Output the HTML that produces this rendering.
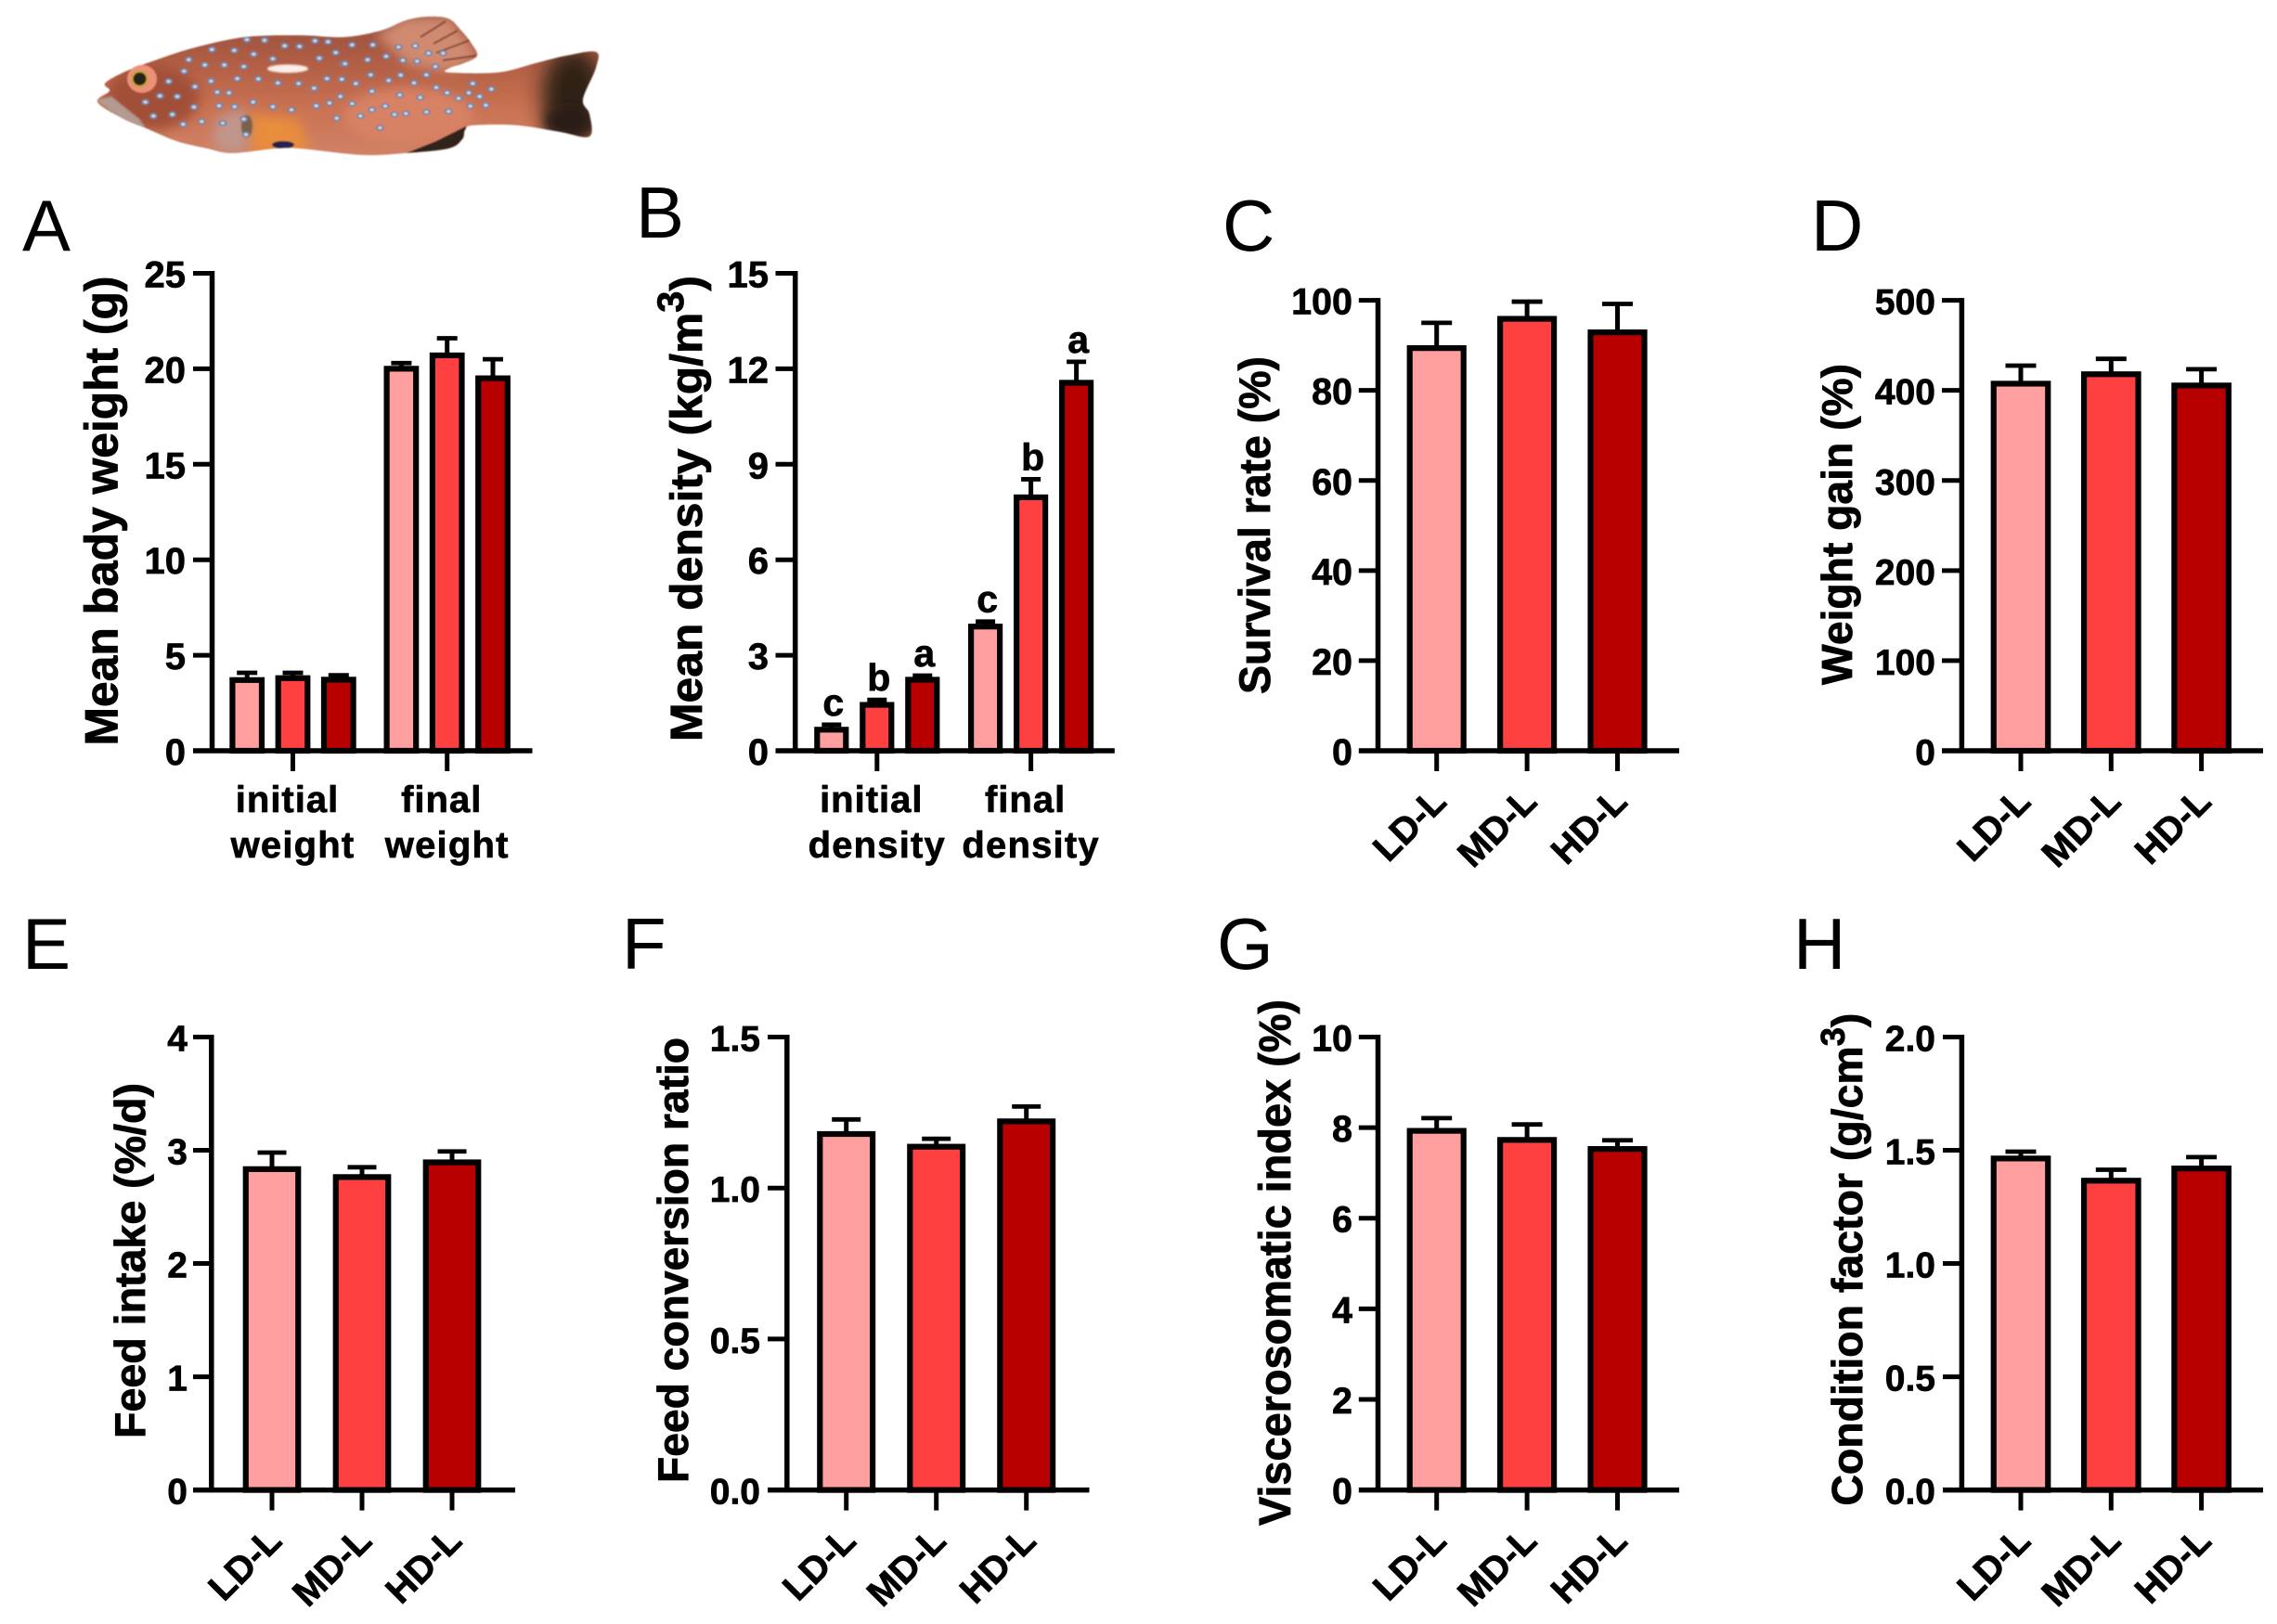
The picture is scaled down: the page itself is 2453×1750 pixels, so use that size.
<!DOCTYPE html>
<html lang="en">
<head>
<meta charset="utf-8">
<title>Growth performance bar charts</title>
<style>
  html, body { margin: 0; padding: 0; background: #fff; }
  svg { display: block; font-family: "Liberation Sans", Arial, sans-serif; }
  .panel-letter { font-size: 78px; font-weight: 400; fill: #000; }
  .axis-title { font-weight: 700; fill: #000; stroke: #000; stroke-width: 0.8px; }
</style>
</head>
<body>
<svg id="figure" xmlns="http://www.w3.org/2000/svg" width="2453" height="1750" viewBox="0 0 2453 1750">
  <rect width="2453" height="1750" fill="#fff"/>
  <defs>
    <filter id="soft" x="-5%" y="-5%" width="110%" height="110%"><feGaussianBlur stdDeviation="0.8"/></filter>
    <filter id="blurMid" x="-40%" y="-40%" width="180%" height="180%"><feGaussianBlur stdDeviation="6"/></filter>
    <filter id="blurWide" x="-50%" y="-50%" width="200%" height="200%"><feGaussianBlur stdDeviation="11"/></filter>
    <linearGradient id="bodyGrad" x1="0" y1="0" x2="0" y2="1">
      <stop offset="0" stop-color="#96503f"/>
      <stop offset="0.3" stop-color="#ae5c43"/>
      <stop offset="0.65" stop-color="#c97152"/>
      <stop offset="1" stop-color="#d08266"/>
    </linearGradient>
    <clipPath id="fishClip"><path id="fishClipPath" d=""/></clipPath>
  </defs>

  <g id="fish" filter="url(#soft)"></g>

  <text class="panel-letter" x="24" y="270">A</text>
  <text class="panel-letter" x="685" y="256">B</text>
  <text class="panel-letter" x="1317" y="270">C</text>
  <text class="panel-letter" x="1951" y="270">D</text>
  <text class="panel-letter" x="24" y="1044">E</text>
  <text class="panel-letter" x="670" y="1044">F</text>
  <text class="panel-letter" x="1311" y="1044">G</text>
  <text class="panel-letter" x="1932" y="1044">H</text>

  <text class="axis-title" font-size="50" transform="translate(126.5,803.5) rotate(-90)" textLength="506" lengthAdjust="spacingAndGlyphs">Mean bady weight (g)</text>
  <text class="axis-title" font-size="48" transform="translate(756,799) rotate(-90)" textLength="502" lengthAdjust="spacingAndGlyphs">Mean density (kg/m<tspan dy="-20" font-size="40">3</tspan><tspan dy="20">)</tspan></text>
  <text class="axis-title" font-size="47" transform="translate(1368,748) rotate(-90)" textLength="364" lengthAdjust="spacingAndGlyphs">Survival rate (%)</text>
  <text class="axis-title" font-size="46" transform="translate(1995,738) rotate(-90)" textLength="346" lengthAdjust="spacingAndGlyphs">Weight gain (%)</text>
  <text class="axis-title" font-size="46" transform="translate(156,1550) rotate(-90)" textLength="383" lengthAdjust="spacingAndGlyphs">Feed intake (%/d)</text>
  <text class="axis-title" font-size="46" transform="translate(740.8,1598) rotate(-90)" textLength="480" lengthAdjust="spacingAndGlyphs">Feed conversion ratio</text>
  <text class="axis-title" font-size="48" transform="translate(1390,1644) rotate(-90)" textLength="567" lengthAdjust="spacingAndGlyphs">Viscerosomatic index (%)</text>
  <text class="axis-title" font-size="46" transform="translate(2005.8,1622.6) rotate(-90)" textLength="531" lengthAdjust="spacingAndGlyphs">Condition factor (g/cm<tspan dy="-19" font-size="36">3</tspan><tspan dy="19">)</tspan></text>
</svg>

<script>
// ---------- chart data ----------
const treatments = ['LD-L', 'MD-L', 'HD-L'];
const weightGroupLines = [['initial', 'weight'], ['final', 'weight']];
const densityGroupLines = [['initial', 'density'], ['final', 'density']];
const densityLetters = ['c', 'b', 'a', 'c', 'b', 'a'];

const ticksA = ['0', '5', '10', '15', '20', '25'];
const meansA = [3.8, 3.9, 3.82, 20.1, 20.8, 19.6];
const errorsA = [0.28, 0.18, 0.13, 0.2, 0.8, 0.9];

const ticksB = ['0', '3', '6', '9', '12', '15'];
const meansB = [0.72, 1.5, 2.29, 3.96, 8.02, 11.62];
const errorsB = [0.1, 0.1, 0.07, 0.1, 0.51, 0.6];

const ticksC = ['0', '20', '40', '60', '80', '100'];
const meansC = [89.8, 96.3, 93.3];
const errorsC = [5.2, 3.4, 5.9];

const ticksD = ['0', '100', '200', '300', '400', '500'];
const meansD = [409.5, 420, 407.5];
const errorsD = [18, 15, 16];

const ticksE = ['0', '1', '2', '3', '4'];
const meansE = [2.85, 2.78, 2.91];
const errorsE = [0.13, 0.07, 0.08];

const ticksF = ['0.0', '0.5', '1.0', '1.5'];
const meansF = [1.185, 1.143, 1.227];
const errorsF = [0.042, 0.02, 0.043];

const ticksG = ['0', '2', '4', '6', '8', '10'];
const meansG = [7.97, 7.77, 7.57];
const errorsG = [0.24, 0.3, 0.15];

const ticksH = ['0.0', '0.5', '1.0', '1.5', '2.0'];
const meansH = [1.472, 1.374, 1.428];
const errorsH = [0.022, 0.04, 0.042];

// ---------- drawing ----------
const SVG_NS = 'http://www.w3.org/2000/svg';
const figure = document.getElementById('figure');
const seriesFills = ['#ff9f9f', '#ff4040', '#b90000'];
const labelStroke = { stroke: '#000', 'stroke-width': 0.7 };

function shape(parent, tag, attrs, content) {
  const node = document.createElementNS(SVG_NS, tag);
  for (const key in attrs) node.setAttribute(key, attrs[key]);
  if (content !== undefined) node.textContent = content;
  parent.appendChild(node);
  return node;
}

function boldText(parent, attrs, content) {
  const merged = Object.assign({ 'font-weight': 700, fill: '#000' }, labelStroke, attrs);
  return shape(parent, 'text', merged, content);
}

function drawPanel(id, frame, tickLabels, means, errors, opts) {
  const group = shape(figure, 'g', {});
  
  

  const yMax = parseFloat(tickLabels[tickLabels.length - 1]);
  const yScale = function (v) { return frame.zeroY - (v / yMax) * (frame.zeroY - frame.topY); };
  const groupSize = opts.groupSize;
  const slotCenter = function (g) { return frame.first + g * frame.groupStep; };
  const barCenter = function (i) {
    const g = Math.floor(i / groupSize);
    const j = i % groupSize;
    return slotCenter(g) + (groupSize > 1 ? (j - 1) * frame.barStep : 0);
  };

  // bars and error bars
  means.forEach(function (mean, i) {
    const cx = barCenter(i);
    const top = yScale(mean + errors[i]);
    const barTop = yScale(mean);
    const stem = shape(group, 'line', { x1: cx, x2: cx, y1: top, y2: barTop + 3, stroke: '#000', 'stroke-width': 5 });
    
    
    const cap = shape(group, 'line', { x1: cx - frame.capWidth / 2, x2: cx + frame.capWidth / 2, y1: top, y2: top, stroke: '#000', 'stroke-width': 4.8 });
    
    
    const bar = shape(group, 'rect', {
      x: cx - frame.barWidth / 2 + 3,
      y: barTop + 2,
      width: frame.barWidth - 6,
      height: Math.max(0, frame.zeroY - barTop - 2),
      fill: seriesFills[i % 3],
      stroke: '#000',
      'stroke-width': 6.2
    });
    
    
    if (opts.letters) {
      const letter = boldText(group, { x: cx + 2, y: top - 10, 'text-anchor': 'middle', 'font-size': 41 }, opts.letters[i]);
      
      
    }
  });

  // y axis
  const yAxis = shape(group, 'line', { x1: frame.axisX, x2: frame.axisX, y1: frame.topY - 2.5, y2: frame.zeroY + 2.5, stroke: '#000', 'stroke-width': 5.5 });
  
  

  tickLabels.forEach(function (label, k) {
    const v = parseFloat(label);
    const y = yScale(v);
    if (k > 0) {
      const tick = shape(group, 'line', { x1: frame.tickLeft, x2: frame.axisX, y1: y, y2: y, stroke: '#000', 'stroke-width': 5 });
      
      
    }
    const text = boldText(group, { x: frame.labelRight, y: y + 15, 'text-anchor': 'end', 'font-size': frame.tickFont }, label);
    
    
  });

  // x axis
  const xAxis = shape(group, 'line', { x1: frame.tickLeft, x2: frame.xRight, y1: frame.zeroY, y2: frame.zeroY, stroke: '#000', 'stroke-width': 5.5 });
  
  

  const slots = opts.groupLines ? opts.groupLines : opts.categories;
  slots.forEach(function (entry, g) {
    const cx = slotCenter(g);
    const xTick = shape(group, 'line', { x1: cx, x2: cx, y1: frame.zeroY, y2: frame.zeroY + 22, stroke: '#000', 'stroke-width': 5 });
    
    
    if (opts.groupLines) {
      const first = boldText(group, { x: cx - 6, y: frame.zeroY + 66, 'text-anchor': 'middle', 'font-size': 40, 'letter-spacing': 1 }, entry[0]);
      
      
      const second = boldText(group, { x: cx, y: frame.zeroY + 115, 'text-anchor': 'middle', 'font-size': 40, 'letter-spacing': 1.2 }, entry[1]);
      
      
    } else {
      const ax = cx + 12.5;
      const ay = frame.zeroY + 57;
      const cat = boldText(group, { x: 0, y: 0, transform: 'translate(' + ax + ',' + ay + ') rotate(-45)', 'text-anchor': 'end', 'font-size': 40 }, entry);
      
      
    }
  });
}

const topRowZero = 809;
const bottomRowZero = 1605.6;

drawPanel('a', { axisX: 228.5, tickLeft: 208, xRight: 573.5, labelRight: 200, topY: 294.5, zeroY: topRowZero, first: 315.5, groupStep: 166.2, barStep: 49.3, barWidth: 37.6, capWidth: 22, tickFont: 40 },
  ticksA, meansA, errorsA, { groupSize: 3, groupLines: weightGroupLines });

drawPanel('b', { axisX: 856.7, tickLeft: 835.5, xRight: 1200.8, labelRight: 828, topY: 294.5, zeroY: topRowZero, first: 944.8, groupStep: 165.8, barStep: 49, barWidth: 37, capWidth: 21, tickFont: 40 },
  ticksB, meansB, errorsB, { groupSize: 3, groupLines: densityGroupLines, letters: densityLetters });

drawPanel('c', { axisX: 1484.5, tickLeft: 1463.8, xRight: 1809, labelRight: 1457, topY: 323.6, zeroY: topRowZero, first: 1547.7, groupStep: 97.4, barStep: 0, barWidth: 64, capWidth: 33, tickFont: 39.5 },
  ticksC, meansC, errorsC, { groupSize: 1, categories: treatments });

drawPanel('d', { axisX: 2113.4, tickLeft: 2092, xRight: 2438, labelRight: 2085, topY: 323.6, zeroY: topRowZero, first: 2177, groupStep: 97.3, barStep: 0, barWidth: 64.5, capWidth: 33, tickFont: 39 },
  ticksD, meansD, errorsD, { groupSize: 1, categories: treatments });

drawPanel('e', { axisX: 227.8, tickLeft: 208, xRight: 555, labelRight: 202, topY: 1117.5, zeroY: bottomRowZero, first: 293, groupStep: 97, barStep: 0, barWidth: 62.5, capWidth: 31, tickFont: 39 },
  ticksE, meansE, errorsE, { groupSize: 1, categories: treatments });

drawPanel('f', { axisX: 847.8, tickLeft: 827, xRight: 1173.5, labelRight: 819, topY: 1117.5, zeroY: bottomRowZero, first: 911.7, groupStep: 97, barStep: 0, barWidth: 62.8, capWidth: 31, tickFont: 39 },
  ticksF, meansF, errorsF, { groupSize: 1, categories: treatments });

drawPanel('g', { axisX: 1484.5, tickLeft: 1463.8, xRight: 1809, labelRight: 1457, topY: 1117.5, zeroY: bottomRowZero, first: 1547.7, groupStep: 97.4, barStep: 0, barWidth: 64, capWidth: 33, tickFont: 39.5 },
  ticksG, meansG, errorsG, { groupSize: 1, categories: treatments });

drawPanel('h', { axisX: 2113.4, tickLeft: 2093, xRight: 2438, labelRight: 2085, topY: 1117.5, zeroY: bottomRowZero, first: 2177, groupStep: 97.3, barStep: 0, barWidth: 64.5, capWidth: 33, tickFont: 39 },
  ticksH, meansH, errorsH, { groupSize: 1, categories: treatments });

// ---------- fish illustration (decoration, not chart data) ----------
function smoothClosed(points) {
  let d = 'M' + points[0][0] + ',' + points[0][1];
  const n = points.length;
  for (let i = 0; i < n; i++) {
    const p0 = points[(i - 1 + n) % n], p1 = points[i], p2 = points[(i + 1) % n], p3 = points[(i + 2) % n];
    const c1x = p1[0] + (p2[0] - p0[0]) / 6, c1y = p1[1] + (p2[1] - p0[1]) / 6;
    const c2x = p2[0] - (p3[0] - p1[0]) / 6, c2y = p2[1] - (p3[1] - p1[1]) / 6;
    d += ' C' + c1x.toFixed(1) + ',' + c1y.toFixed(1) + ' ' + c2x.toFixed(1) + ',' + c2y.toFixed(1) + ' ' + p2[0] + ',' + p2[1];
  }
  return d + ' Z';
}

const fishGroup = document.getElementById('fish');
const fishOutline = [[105,110],[118,98],[113,90],[133,78],[167,65],[207,52],[263,40],[323,38],[370,40],[410,33],[437,22],[460,18],[483,20],[497,33],[508,47],[514,60],[500,68],[485,73],[483,78],[537,78],[577,68],[610,60],[642,56],[642,73],[628,107],[635,123],[635,147],[603,142],[557,135],[510,135],[501,140],[498,150],[483,160],[437,165],[390,167],[323,160],[297,160],[250,165],[223,160],[190,152],[157,138],[133,128]];
const fishPath = smoothClosed(fishOutline);
document.getElementById('fishClipPath').setAttribute('d', fishPath);

const fishBody = shape(fishGroup, 'path', { d: fishPath, fill: 'url(#bodyGrad)' });



const fishPaint = shape(fishGroup, 'g', { 'clip-path': 'url(#fishClip)' });



const fishPatches = [
  ['fish-head-shade', 'ellipse', { cx: 165, cy: 105, rx: 50, ry: 35, fill: '#a24f37', filter: 'url(#blurMid)' }],
  ['fish-dorsal-fin', 'path', { d: 'M405,38 L437,18 L485,18 L516,60 L484,78 L440,70 Z', fill: '#d08a70', filter: 'url(#blurMid)' }],
  ['fish-flank-light', 'ellipse', { cx: 440, cy: 125, rx: 70, ry: 30, fill: '#d88265', filter: 'url(#blurMid)' }],
  ['fish-belly', 'path', { d: 'M268,122 L322,128 L335,165 L270,165 Z', fill: '#e88c3c', filter: 'url(#blurMid)' }],
  ['fish-gill', 'path', { d: 'M232,128 L262,115 L268,140 L262,166 L230,160 Z', fill: '#c0968c', filter: 'url(#blurMid)' }],
  ['fish-cheek-patch', 'ellipse', { cx: 266, cy: 136, rx: 6, ry: 12, fill: '#7a6048', filter: 'url(#soft)' }],
  ['fish-tail-shade', 'ellipse', { cx: 618, cy: 104, rx: 34, ry: 52, fill: '#2e2018', filter: 'url(#blurWide)' }],
  ['fish-tail-shade-lower', 'ellipse', { cx: 612, cy: 132, rx: 26, ry: 16, fill: '#2a1c16', filter: 'url(#blurMid)' }],
  ['fish-pelvic-fin', 'path', { d: 'M502,136 L470,152 L430,168 L490,168 L504,150 Z', fill: '#33231c' }],
  ['fish-pectoral-spot', 'ellipse', { cx: 305, cy: 156, rx: 12, ry: 4, fill: '#26234e' }],
  ['fish-highlight', 'ellipse', { cx: 310, cy: 74, rx: 22, ry: 4.5, fill: '#fbeee8', filter: 'url(#soft)' }],
  ['fish-jaw', 'path', { d: 'M104,108 L120,104 L150,128 L157,138 L130,128 Z', fill: '#b39a92', filter: 'url(#soft)' }]
];
fishPatches.forEach(function (item) {
  const patch = shape(fishPaint, item[1], item[2]);
  
  
});

const fishRays = shape(fishPaint, 'path', { d: 'M453,40 L480,23 M467,47 L493,33 M470,57 L507,43 M477,65 L513,60', stroke: '#6d3328', 'stroke-width': 2, fill: 'none', opacity: 0.75 });



const headSpots = [[487,133],[550,145],[612,160],[762,158],[840,176],[650,118],[698,120],[748,102],[790,105],[815,140],[585,100],[528,98],[415,130],[340,163],[392,180],[455,180],[518,185],[325,200],[275,233],[360,250],[432,268],[412,232],[497,224],[565,225],[628,238],[695,240],[787,224],[835,226],[745,255],[470,270],[548,300],[488,315],[438,312],[357,316],[303,282],[247,280],[200,300],[226,345],[287,340],[322,372],[382,363],[450,368],[518,355],[525,405],[612,315],[672,325],[752,312],[830,282],[795,303],[818,352]];
const rearSpots = [[28,115],[95,115],[178,122],[232,118],[275,142],[322,142],[78,163],[138,152],[192,165],[238,168],[297,185],[5,176],[88,212],[185,213],[268,212],[40,240],[146,230],[228,238],[300,253],[92,265],[182,277],[248,285],[335,270],[372,288],[28,305],[135,313],[92,325],[55,345],[202,337],[268,332],[340,330],[410,313],[440,282],[478,258],[418,240],[118,383],[165,340],[405,270],[460,310]];

function addSpot(px, py) {
  const outer = shape(fishPaint, 'ellipse', { cx: px, cy: py, rx: 4.4, ry: 3.3, fill: '#7080a4' });
  
  
  const inner = shape(fishPaint, 'ellipse', { cx: px, cy: py, rx: 2.2, ry: 1.6, fill: '#cfdcdf' });
  
  
}
headSpots.forEach(function (p) { addSpot(90 + p[0] / 3, 10 + p[1] / 3); });
rearSpots.forEach(function (p) { addSpot(370 + p[0] / 3, 10 + p[1] / 3); });

const eyeRing = shape(fishGroup, 'ellipse', { cx: 153, cy: 85, rx: 16, ry: 15, fill: '#ee8f78' });


const eyeIris = shape(fishGroup, 'ellipse', { cx: 150.5, cy: 85, rx: 9.5, ry: 9.5, fill: '#c8a344' });


const eyePupil = shape(fishGroup, 'ellipse', { cx: 150.5, cy: 85, rx: 7, ry: 7, fill: '#2b2412' });


</script>
</body>
</html>
